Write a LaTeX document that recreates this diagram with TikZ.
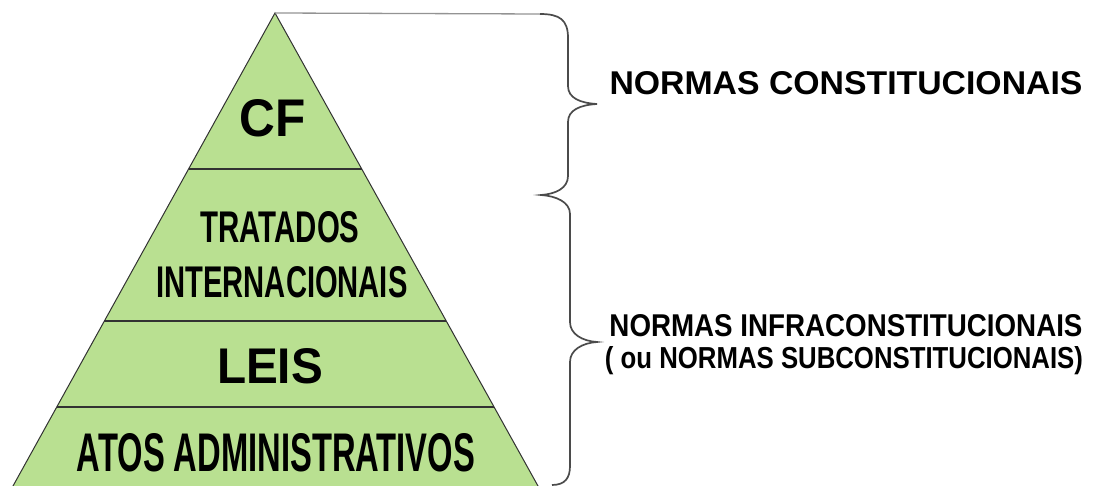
\documentclass[tikz,border=0pt]{standalone}
\usepackage{fontspec}
\setmainfont{Liberation Sans}
\usetikzlibrary{calc}
\definecolor{pyrgreen}{RGB}{185,224,145}
\definecolor{edgegray}{RGB}{50,50,50}
\definecolor{bracegray}{RGB}{75,75,75}
\newcommand{\fitlabel}[3]{\resizebox{#1pt}{#2pt}{\bfseries #3}}

\begin{document}
\begin{tikzpicture}[x=1pt,y=-1pt,
    lbl/.style={anchor=base, inner sep=0pt, outer sep=0pt}]
    \useasboundingbox (0,0) rectangle (1093,486);

    % Pyramid corners
    \coordinate (top) at (275,13);
    \coordinate (bl) at (13,486); \coordinate (br) at (538,486);

    % Body of the pyramid
    \filldraw[fill=pyrgreen, draw=edgegray, line width=1pt]
        ($(top)!1.05!(bl)$) -- (top) -- ($(top)!1.05!(br)$) -- cycle;

    % Layers
    \foreach \t in {0.330, 0.651, 0.833}
        \draw[edgegray, line width=1.2pt] ($(top)!\t!(bl)$) -- ($(top)!\t!(br)$);

    % Labels inside the pyramid
    \node[lbl] (cf)   at (273,137) {\fitlabel{66}{37}{CF}};
    \node[lbl] (trat) at (280,243) {\fitlabel{159}{31}{TRATADOS}};
    \node[lbl] (intl) at (282,298) {\fitlabel{251}{31}{INTERNACIONAIS}};
    \node[lbl] (leis) at (270,383) {\fitlabel{106}{35}{LEIS}};
    \node[lbl] (atos) at (276,471) {\fitlabel{398}{38}{ATOS ADMINISTRATIVOS}};

    % Brace points
    \coordinate (bstart) at (540,14);
    \coordinate (tipa) at (597,104);
    \coordinate (joint) at (541,195);
    \coordinate (tipb) at (597,342);
    \coordinate (bend) at (552,485);

    % Top rule and braces
    \draw[bracegray!60, line width=1.3pt] (top) -- (bstart);
    \draw[bracegray, line width=1.7pt] (bstart)
        .. controls (560,14) and (568,20) .. (568,38) -- (568,86)
        .. controls (568,98) and (580,103) .. (tipa)
        .. controls (580,105) and (568,110) .. (568,122) -- (568,176)
        .. controls (568,188) and (556,194) .. (joint)
        .. controls (556,196) and (570,202) .. (570,214) -- (570,322)
        .. controls (570,334) and (582,341) .. (tipb)
        .. controls (582,343) and (570,350) .. (570,362) -- (570,466)
        .. controls (570,478) and (565,485) .. (bend);

    % Labels on the right
    \node[lbl] (const) at (846,95) {\fitlabel{473}{23}{NORMAS CONSTITUCIONAIS}};
    \node[lbl] (infra) at (846,337) {\fitlabel{473}{22}{NORMAS INFRACONSTITUCIONAIS}};
    \node[lbl] (subc)  at (844,368) {\fitlabel{478}{22}{( ou NORMAS SUBCONSTITUCIONAIS)}};
\end{tikzpicture}
\end{document}
